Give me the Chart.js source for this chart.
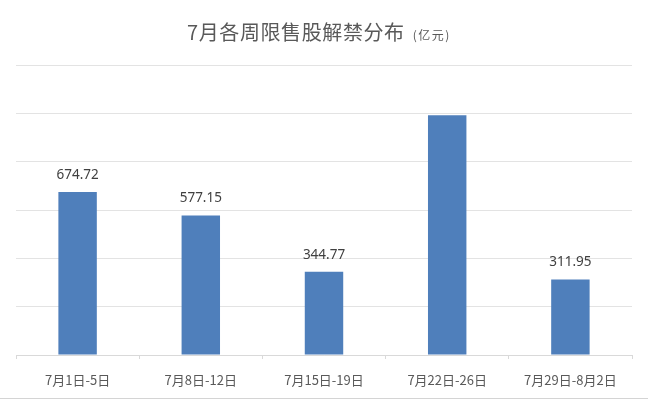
<!DOCTYPE html>
<html>
<head>
<meta charset="utf-8">
<script src="https://cdn.jsdelivr.net/npm/chart.js@4"></script>
<style>
  html, body { margin: 0; padding: 0; background: #ffffff; }
  #wrap { position: relative; width: 648px; height: 400px; overflow: hidden; }
  #title { position: absolute; left: 187px; top: 17px; color: #595959;
           font-family: "Noto Sans CJK SC", "Noto Sans", sans-serif; white-space: nowrap; }
  #title .main { font-size: 20px; letter-spacing: 0.6px; }
  #title .unit { font-size: 12px; letter-spacing: 1.5px; margin-left: 8px; }
  #bottomline { position: absolute; left: 0; top: 398px; width: 648px; height: 1px; background: #d4d4d4; }
  canvas { position: absolute; left: 0; top: 0; }
</style>
</head>
<body>
<div id="wrap">
  <canvas id="c" width="648" height="400"></canvas>
  <div id="title"><span class="main">7月各周限售股解禁分布</span><span class="unit">(亿元)</span></div>
  <div id="bottomline"></div>
</div>
<script>
const categories = ["7月1日-5日", "7月8日-12日", "7月15日-19日", "7月22日-26日", "7月29日-8月2日"];
const values = [674.72, 577.15, 344.77, 992, 311.95];
const valueLabels = ["674.72", "577.15", "344.77", null, "311.95"];
const yTicks = [0, 200, 400, 600, 800, 1000, 1200];

const labelPlugin = {
  id: 'valueLabels',
  afterDatasetsDraw(chart) {
    const ctx = chart.ctx;
    const meta = chart.getDatasetMeta(0);
    ctx.save();
    ctx.font = '13.5px "Noto Sans", "Open Sans", sans-serif';
    ctx.fillStyle = '#404040';
    ctx.textAlign = 'center';
    ctx.textBaseline = 'middle';
    meta.data.forEach((bar, i) => {
      const t = valueLabels[i];
      if (t) ctx.fillText(t, bar.x, bar.y - 17);
    });
    ctx.restore();
  }
};

new Chart(document.getElementById('c'), {
  type: 'bar',
  data: {
    labels: categories,
    datasets: [{
      data: values,
      backgroundColor: '#4f7fbb',
      borderWidth: 0,
      categoryPercentage: 1.0,
      barPercentage: 0.312
    }]
  },
  options: {
    responsive: false,
    animation: false,
    devicePixelRatio: 1,
    layout: { padding: { left: 16, right: 16, top: 65, bottom: 12 } },
    plugins: { legend: { display: false }, title: { display: false }, tooltip: { enabled: false } },
    scales: {
      x: {
        afterFit(axis) { axis.height = 33; },
        grid: { display: true, drawOnChartArea: false, drawTicks: true, tickLength: 4, color: '#d9d9d9', offset: true },
        border: { display: true, color: '#d9d9d9' },
        ticks: { color: '#595959', padding: 13, font: { size: 13, family: '"Noto Sans CJK SC", "Noto Sans", sans-serif' }, maxRotation: 0, autoSkip: false }
      },
      y: {
        min: yTicks[0],
        max: yTicks[yTicks.length - 1],
        afterBuildTicks(axis) { axis.ticks = yTicks.map(v => ({ value: v })); },
        grid: { color: '#e3e3e3', drawTicks: false },
        border: { display: false },
        ticks: { display: false }
      }
    }
  },
  plugins: [labelPlugin]
});
</script>
</body>
</html>
